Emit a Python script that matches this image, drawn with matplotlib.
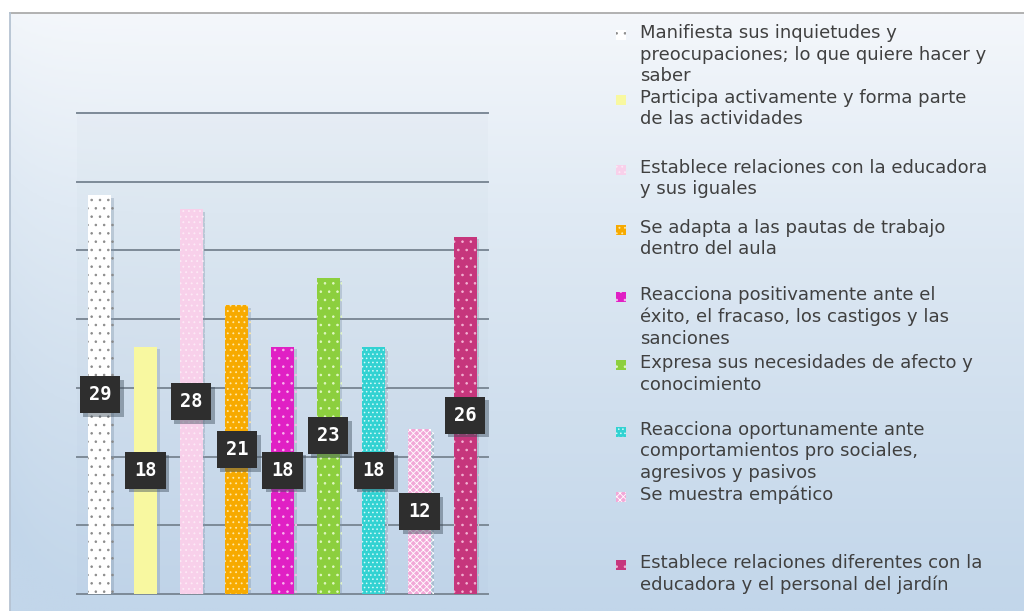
import numpy as np
import matplotlib.pyplot as plt
import matplotlib.patheffects as pe
from matplotlib.colors import LinearSegmentedColormap
from matplotlib.patches import Rectangle

# datos
etiquetas = [
    'Manifiesta sus inquietudes y\npreocupaciones; lo que quiere hacer y\nsaber',
    'Participa activamente y forma parte\nde las actividades',
    'Establece relaciones con la educadora\ny sus iguales',
    'Se adapta a las pautas de trabajo\ndentro del aula',
    'Reacciona positivamente ante el\néxito, el fracaso, los castigos y las\nsanciones',
    'Expresa sus necesidades de afecto y\nconocimiento',
    'Reacciona oportunamente ante\ncomportamientos pro sociales,\nagresivos y pasivos',
    'Se muestra empático',
    'Establece relaciones diferentes con la\neducadora y el personal del jardín',
]
valores = [29, 18, 28, 21, 18, 23, 18, 12, 26]

# estilo de cada serie
colores = ['#FFFFFF', '#F8F8A0', '#F8D0EA', '#F7AA00', '#E020C4',
           '#8CCF3E', '#32D2D2', '#F2A8D8', '#C6367C']
hatch_col = ['#8A8A8A', '#FFFFC8', '#FDEAF6', '#FFE9A8', '#FAB8EE',
             '#E2F8C4', '#D8FAFA', '#FFFFFF', '#F4B4D4']
hatches = ['..', '', '...', '...', '..', '..', '....', 'xxxxx', '..']

# posiciones de la leyenda (px, primera linea de cada entrada)
leg_y = [35, 100, 170, 230, 297, 365, 432, 497, 565]

W, H = 1024, 611
plt.rcParams['hatch.linewidth'] = 0.6
fig = plt.figure(figsize=(W / 100, H / 100), dpi=100)
fig.patch.set_facecolor('white')

# fondo con degradado
bg = fig.add_axes([0, 0, 1, 1])
bg.set_xlim(0, W)
bg.set_ylim(H, 0)
bg.axis('off')
cmap = LinearSegmentedColormap.from_list('fondo', ['#F4F7FB', '#E0EAF4', '#D0DFEE', '#C2D6EA'])
vert = np.linspace(0, 1, 300).reshape(-1, 1)
horiz = np.linspace(0, 1, 400).reshape(1, -1)
edge = 0.12 * np.exp(-horiz / 0.03)
grad = np.clip(vert + edge * (0.3 + vert), 0, 1)
bg.imshow(grad, cmap=cmap, extent=[10, W, H, 13], aspect='auto', vmin=0, vmax=1, zorder=0)
bg.plot([10, W], [13, 13], color='#ABABAB', lw=1.3, zorder=1)
bg.plot([10, 10], [13, H], color='#B5C3D2', lw=1.3, zorder=1)

# grafico de barras
ax = fig.add_axes([77 / W, 1 - 594 / H, (488 - 77) / W, (594 - 113) / H])
ax.patch.set_facecolor('#8CA2BA')
ax.patch.set_alpha(0.04)
x = np.arange(len(valores))
bars = ax.bar(x, valores, width=0.5, color=colores, linewidth=0, zorder=2)
for b, h, hc in zip(bars, hatches, hatch_col):
    b.set_edgecolor(hc)
    if h:
        b.set_hatch(h)
    b.set_path_effects([pe.SimplePatchShadow(offset=(2, -2), shadow_rgbFace='#7F93A8', alpha=0.35),
                        pe.Normal()])
ax.set_xlim(-0.5, 8.5)
ax.set_ylim(0, 35)
ax.set_yticks(range(0, 36, 5))
ax.set_xticks([])
ax.yaxis.grid(True, color='#7D8A97', lw=1.4)
ax.set_axisbelow(True)
for ln in ax.get_ygridlines():
    ln.set_clip_on(False)
ax.tick_params(left=False, labelleft=False)
for s in ax.spines.values():
    s.set_visible(False)

for xi, v in zip(x, valores):
    t = ax.text(xi, v / 2, str(v), ha='center', va='center', color='white',
                fontsize=13.5, fontweight='bold', family='DejaVu Sans Mono', zorder=5,
                bbox=dict(boxstyle='square,pad=0.48', fc='#2E2E2E', ec='none'))
    t.get_bbox_patch().set_path_effects([
        pe.SimplePatchShadow(offset=(2.5, -2.5), shadow_rgbFace='#40505F', alpha=0.45),
        pe.Normal()])

# leyenda
for y, lab, c, hc, h in zip(leg_y, etiquetas, colores, hatch_col, hatches):
    r = Rectangle((616, y - 5), 10, 10, facecolor=c, edgecolor=hc, linewidth=0, zorder=3)
    if h:
        r.set_hatch(h)
    bg.add_patch(r)
    bg.text(640, y - 11, lab, va='top', ha='left', fontsize=13, color='#404040',
            linespacing=1.25, zorder=3)

fig.savefig('out.png', dpi=100)
